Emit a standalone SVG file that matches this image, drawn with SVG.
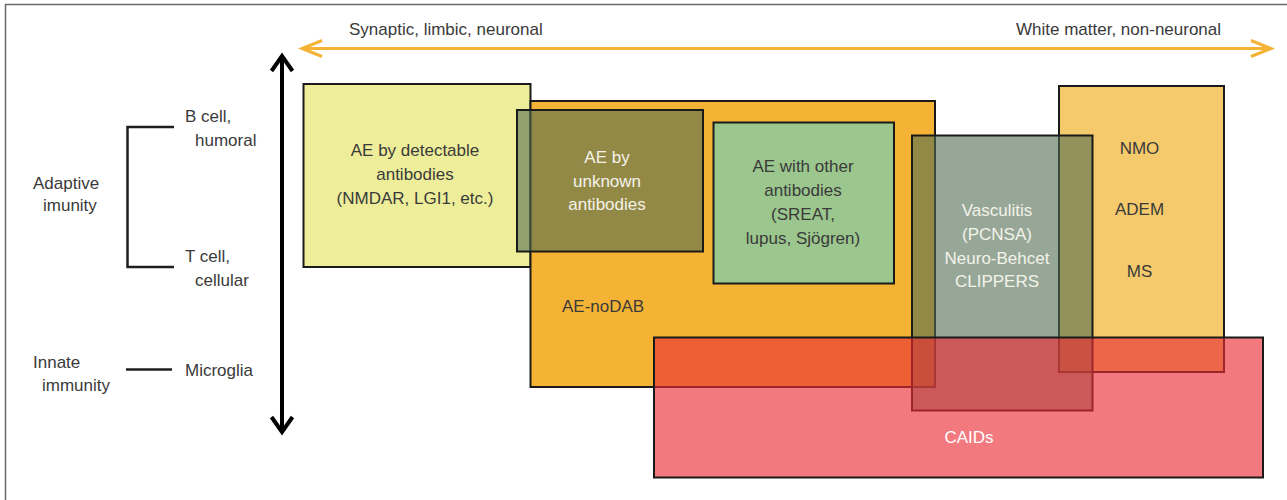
<svg xmlns="http://www.w3.org/2000/svg" width="1287" height="500" viewBox="0 0 1287 500">
<defs>
<style>
text{font-family:"Liberation Sans",Arial,sans-serif;font-size:17px;fill:#3a3a3a}
.c{text-anchor:middle}
.w{fill:#f3f3ea}
.box{stroke:#1a1a1a;stroke-width:2}
.tr{fill:#526c52;fill-opacity:0.6}
</style>
<marker id="ah-o" markerUnits="userSpaceOnUse" viewBox="-24 -12 28 24" markerWidth="28" markerHeight="24" refX="0" refY="0" orient="auto-start-reverse">
<path d="M-20,-8 L0,0 L-20,8" fill="none" stroke="#f5b335" stroke-width="3"/>
</marker>
<marker id="ah-k" markerUnits="userSpaceOnUse" viewBox="-20 -14 24 28" markerWidth="24" markerHeight="28" refX="0" refY="0" orient="auto-start-reverse">
<path d="M-15,-10.5 L0,0 L-15,10.5" fill="none" stroke="#000" stroke-width="4"/>
</marker>
</defs>
<rect width="1287" height="500" fill="#fff"/>
<path d="M5.5,500 V4.5 H1287" fill="none" stroke="#6a6a6a" stroke-width="1.5"/>

<g id="labels">
<text x="349" y="35">Synaptic, limbic, neuronal</text>
<text x="1016" y="35">White matter, non-neuronal</text>
<text x="185" y="122">B cell,</text>
<text x="195" y="146">humoral</text>
<text x="33" y="189">Adaptive</text>
<text x="43" y="211">imunity</text>
<text x="185" y="262">T cell,</text>
<text x="195" y="286">cellular</text>
<text x="33" y="368">Innate</text>
<text x="42" y="391">immunity</text>
<text x="185" y="376">Microglia</text>
</g>

<g id="connectors" fill="none">
<line x1="302" y1="48.5" x2="1271" y2="48.5" stroke="#f5b335" stroke-width="3" marker-start="url(#ah-o)" marker-end="url(#ah-o)"/>
<line x1="282" y1="56" x2="282" y2="432" stroke="#000" stroke-width="4" marker-start="url(#ah-k)" marker-end="url(#ah-k)"/>
<path d="M174,127 H127.5 V267 H174" stroke="#1e1e1e" stroke-width="2.5"/>
<path d="M126,369.5 H172" stroke="#1e1e1e" stroke-width="2.5"/>
</g>

<g id="ae-detectable">
<rect class="box" x="303.5" y="84" width="227" height="183" fill="#eeee9a"/>
<text class="c" x="415" y="156">AE by detectable</text>
<text class="c" x="415" y="180">antibodies</text>
<text class="c" x="415" y="204">(NMDAR, LGI1, etc.)</text>
</g>

<g id="ae-nodab">
<rect class="box" x="530.5" y="101" width="404.5" height="286" fill="#f5b335"/>
<text x="562" y="311.5">AE-noDAB</text>
</g>

<g id="ae-unknown">
<rect class="box tr" x="517" y="110" width="186" height="141.5"/>
<text class="c w" x="607" y="163">AE by</text>
<text class="c w" x="607" y="187">unknown</text>
<text class="c w" x="607" y="210">antibodies</text>
</g>

<g id="ae-other">
<rect class="box" x="713.5" y="122.5" width="180.5" height="161" fill="#9bc68d"/>
<text class="c" x="803" y="172">AE with other</text>
<text class="c" x="803" y="196">antibodies</text>
<text class="c" x="803" y="220">(SREAT,</text>
<text class="c" x="803" y="243.5">lupus, Sjögren)</text>
</g>

<g id="demyelinating">
<rect class="box" x="1059" y="86" width="165" height="286" fill="#f5ca6d"/>
<text class="c" x="1139.5" y="154">NMO</text>
<text class="c" x="1139.5" y="215">ADEM</text>
<text class="c" x="1139.5" y="277">MS</text>
</g>

<g id="vasculitis">
<rect class="box tr" x="912" y="135.5" width="180.5" height="275"/>
<text class="c w" x="997" y="216">Vasculitis</text>
<text class="c w" x="997" y="240">(PCNSA)</text>
<text class="c w" x="997" y="264">Neuro-Behcet</text>
<text class="c w" x="997" y="287">CLIPPERS</text>
</g>

<g id="caids">
<rect class="box" x="654" y="337.5" width="609" height="140" fill="#ea2c35" fill-opacity="0.63"/>
<text class="c" x="969" y="443" style="fill:#ffffff">CAIDs</text>
</g>
</svg>
